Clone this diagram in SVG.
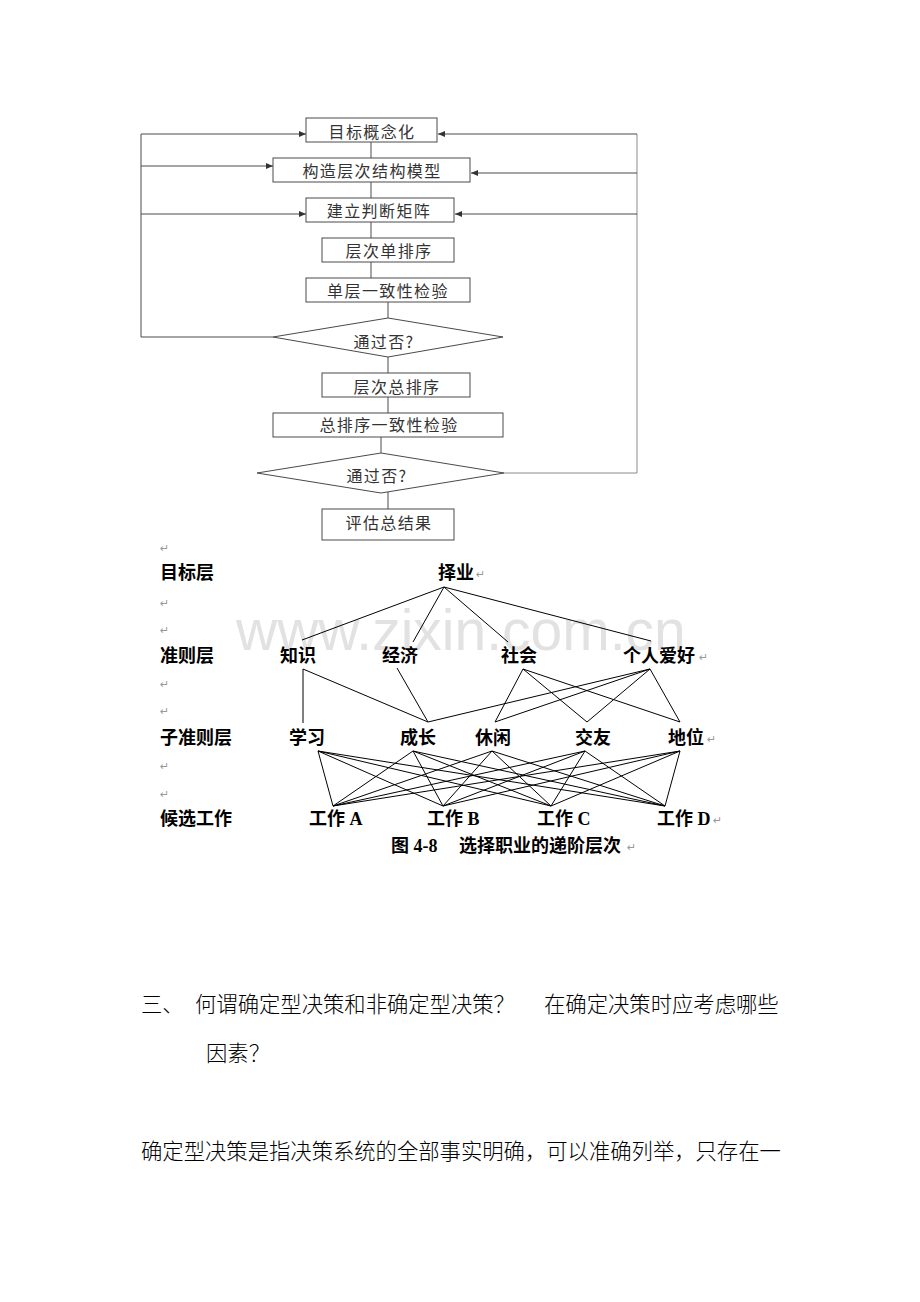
<svg xmlns="http://www.w3.org/2000/svg" width="920" height="1302" viewBox="0 0 920 1302">
<style>
.bx{fill:#fff;stroke:#4a4a4a;stroke-width:1}
.ft{font-family:"Noto Sans CJK SC",sans-serif;font-size:16px;fill:#333;letter-spacing:1.4px;text-anchor:middle}
.fl{fill:none;stroke:#4a4a4a;stroke-width:1}
.fr{fill:none;stroke:#8a8a8a;stroke-width:1}
.hl{stroke:#000;stroke-width:1;fill:none}
.ht{font-family:"Liberation Serif","Noto Sans CJK SC",serif;font-size:18px;font-weight:bold;fill:#000}
.pm{font-family:"DejaVu Sans",sans-serif;font-size:11px;fill:#999}
.bt{font-family:"Noto Sans CJK SC",sans-serif;font-size:21.33px;font-weight:300;fill:#000}
.wm{font-family:"Liberation Sans",Arial,sans-serif;font-size:57px;fill:#e2e2e2}
</style>
<defs>
<marker id="ah" markerWidth="7" markerHeight="6" refX="7" refY="3" orient="auto" markerUnits="userSpaceOnUse">
<path d="M0,0 L7,3 L0,6 z" fill="#333"/>
</marker>
</defs>
<rect width="920" height="1302" fill="#fff"/>
<text class="wm" x="236" y="650">www.zixin.com.cn</text>

<g id="flow-connectors">
<line class="fl" x1="371" y1="142" x2="371" y2="158"/>
<line class="fl" x1="371" y1="182" x2="371" y2="198"/>
<line class="fl" x1="371" y1="222" x2="371" y2="238"/>
<line class="fl" x1="371" y1="262" x2="371" y2="278"/>
<line class="fl" x1="388" y1="302" x2="388" y2="318"/>
<line class="fl" x1="388" y1="357" x2="388" y2="373"/>
<line class="fl" x1="388" y1="397" x2="388" y2="413"/>
<line class="fl" x1="381" y1="437" x2="381" y2="453"/>
<line class="fl" x1="388" y1="492" x2="388" y2="509"/>
<polyline class="fl" points="273,337 141,337 141,134 306,134" marker-end="url(#ah)"/>
<line class="fl" x1="141" y1="166" x2="273" y2="166" marker-end="url(#ah)"/>
<line class="fl" x1="141" y1="214" x2="306" y2="214" marker-end="url(#ah)"/>
<polyline class="fr" points="504,473 637,473 637,134"/>
<line class="fl" x1="637" y1="134" x2="438" y2="134" marker-end="url(#ah)"/>
<line class="fl" x1="637" y1="173" x2="471" y2="173" marker-end="url(#ah)"/>
<line class="fl" x1="637" y1="214" x2="455" y2="214" marker-end="url(#ah)"/>
</g>

<g id="f1"><rect class="bx" x="306" y="118" width="131" height="24"/><text class="ft" x="372" y="138">目标概念化</text></g>
<g id="f2"><rect class="bx" x="273" y="158" width="197" height="24"/><text class="ft" x="372" y="177">构造层次结构模型</text></g>
<g id="f3"><rect class="bx" x="306" y="198" width="148" height="24"/><text class="ft" x="379" y="217">建立判断矩阵</text></g>
<g id="f4"><rect class="bx" x="322" y="238" width="132" height="24"/><text class="ft" x="389" y="257">层次单排序</text></g>
<g id="f5"><rect class="bx" x="306" y="278" width="164" height="24"/><text class="ft" x="388" y="297">单层一致性检验</text></g>
<g id="d1"><polygon class="bx" points="388,318 503,337 388,357 273,337"/><text class="ft" x="384" y="348">通过否?</text></g>
<g id="f6"><rect class="bx" x="322" y="373" width="148" height="24"/><text class="ft" x="397" y="393">层次总排序</text></g>
<g id="f7"><rect class="bx" x="273" y="413" width="230" height="24"/><text class="ft" x="389" y="431">总排序一致性检验</text></g>
<g id="d2"><polygon class="bx" points="381,453 504,473 381,493 257,473"/><text class="ft" x="377" y="482">通过否?</text></g>
<g id="f8"><rect class="bx" x="322" y="509" width="132" height="31"/><text class="ft" x="389" y="529">评估总结果</text></g>

<g id="hier-connectors">
<line class="hl" x1="444" y1="587" x2="302" y2="640"/>
<line class="hl" x1="444" y1="587" x2="413" y2="642"/>
<line class="hl" x1="444" y1="587" x2="508" y2="642"/>
<line class="hl" x1="444" y1="587" x2="651" y2="641"/>
<line class="hl" x1="303" y1="669" x2="303" y2="723"/>
<line class="hl" x1="303" y1="669" x2="428" y2="722"/>
<line class="hl" x1="397" y1="668" x2="428" y2="722"/>
<line class="hl" x1="650" y1="669" x2="428" y2="722"/>
<line class="hl" x1="523" y1="669" x2="495" y2="722"/>
<line class="hl" x1="523" y1="669" x2="587" y2="722"/>
<line class="hl" x1="523" y1="669" x2="680" y2="722"/>
<line class="hl" x1="650" y1="669" x2="495" y2="722"/>
<line class="hl" x1="650" y1="669" x2="587" y2="722"/>
<line class="hl" x1="650" y1="669" x2="680" y2="722"/>
<g id="bipartite">
<path class="hl" d="M318,751 L333,806 M318,751 L443,806 M318,751 L551,806 M318,751 L665,806"/>
<path class="hl" d="M413,751 L333,806 M413,751 L443,806 M413,751 L551,806 M413,751 L665,806"/>
<path class="hl" d="M492,751 L333,806 M492,751 L443,806 M492,751 L551,806 M492,751 L665,806"/>
<path class="hl" d="M585,751 L333,806 M585,751 L443,806 M585,751 L551,806 M585,751 L665,806"/>
<path class="hl" d="M680,751 L333,806 M680,751 L443,806 M680,751 L551,806 M680,751 L665,806"/>
</g>
</g>

<g id="layer-labels">
<text class="ht" x="160" y="579">目标层</text>
<text class="ht" x="160" y="662">准则层</text>
<text class="ht" x="160" y="744">子准则层</text>
<text class="ht" x="160" y="825">候选工作</text>
</g>
<g id="n-zeye"><text class="ht" x="438" y="579">择业</text></g>
<g id="n-zhishi"><text class="ht" x="280" y="662">知识</text></g>
<g id="n-jingji"><text class="ht" x="382" y="662">经济</text></g>
<g id="n-shehui"><text class="ht" x="501" y="662">社会</text></g>
<g id="n-aihao"><text class="ht" x="623" y="662">个人爱好</text></g>
<g id="n-xuexi"><text class="ht" x="289" y="744">学习</text></g>
<g id="n-chengzhang"><text class="ht" x="400" y="744">成长</text></g>
<g id="n-xiuxian"><text class="ht" x="475" y="744">休闲</text></g>
<g id="n-jiaoyou"><text class="ht" x="575" y="744">交友</text></g>
<g id="n-diwei"><text class="ht" x="668" y="744">地位</text></g>
<g id="n-a"><text class="ht" x="309" y="825">工作 A</text></g>
<g id="n-b"><text class="ht" x="427" y="825">工作 B</text></g>
<g id="n-c"><text class="ht" x="537" y="825">工作 C</text></g>
<g id="n-d"><text class="ht" x="657" y="825">工作 D</text></g>
<g id="caption"><text class="ht" x="391" y="852">图 4-8</text><text class="ht" x="459" y="852">选择职业的递阶层次</text></g>

<g id="para-marks">
<text class="pm" x="160" y="552">↵</text>
<text class="pm" x="160" y="607">↵</text>
<text class="pm" x="160" y="634">↵</text>
<text class="pm" x="160" y="688">↵</text>
<text class="pm" x="160" y="715">↵</text>
<text class="pm" x="160" y="770">↵</text>
<text class="pm" x="160" y="798">↵</text>
<text class="pm" x="476" y="578">↵</text>
<text class="pm" x="699" y="661">↵</text>
<text class="pm" x="707" y="743">↵</text>
<text class="pm" x="713" y="824">↵</text>
<text class="pm" x="627" y="851">↵</text>
</g>

<g id="body-text">
<text class="bt" x="141" y="1012">三、</text>
<text class="bt" x="195" y="1012">何谓确定型决策和非确定型决策？</text>
<text class="bt" x="544" y="1012">在确定决策时应考虑哪些</text>
<text class="bt" x="206" y="1061">因素？</text>
<text class="bt" x="141" y="1159">确定型决策是指决策系统的全部事实明确，可以准确列举，只存在一</text>
</g>
</svg>
